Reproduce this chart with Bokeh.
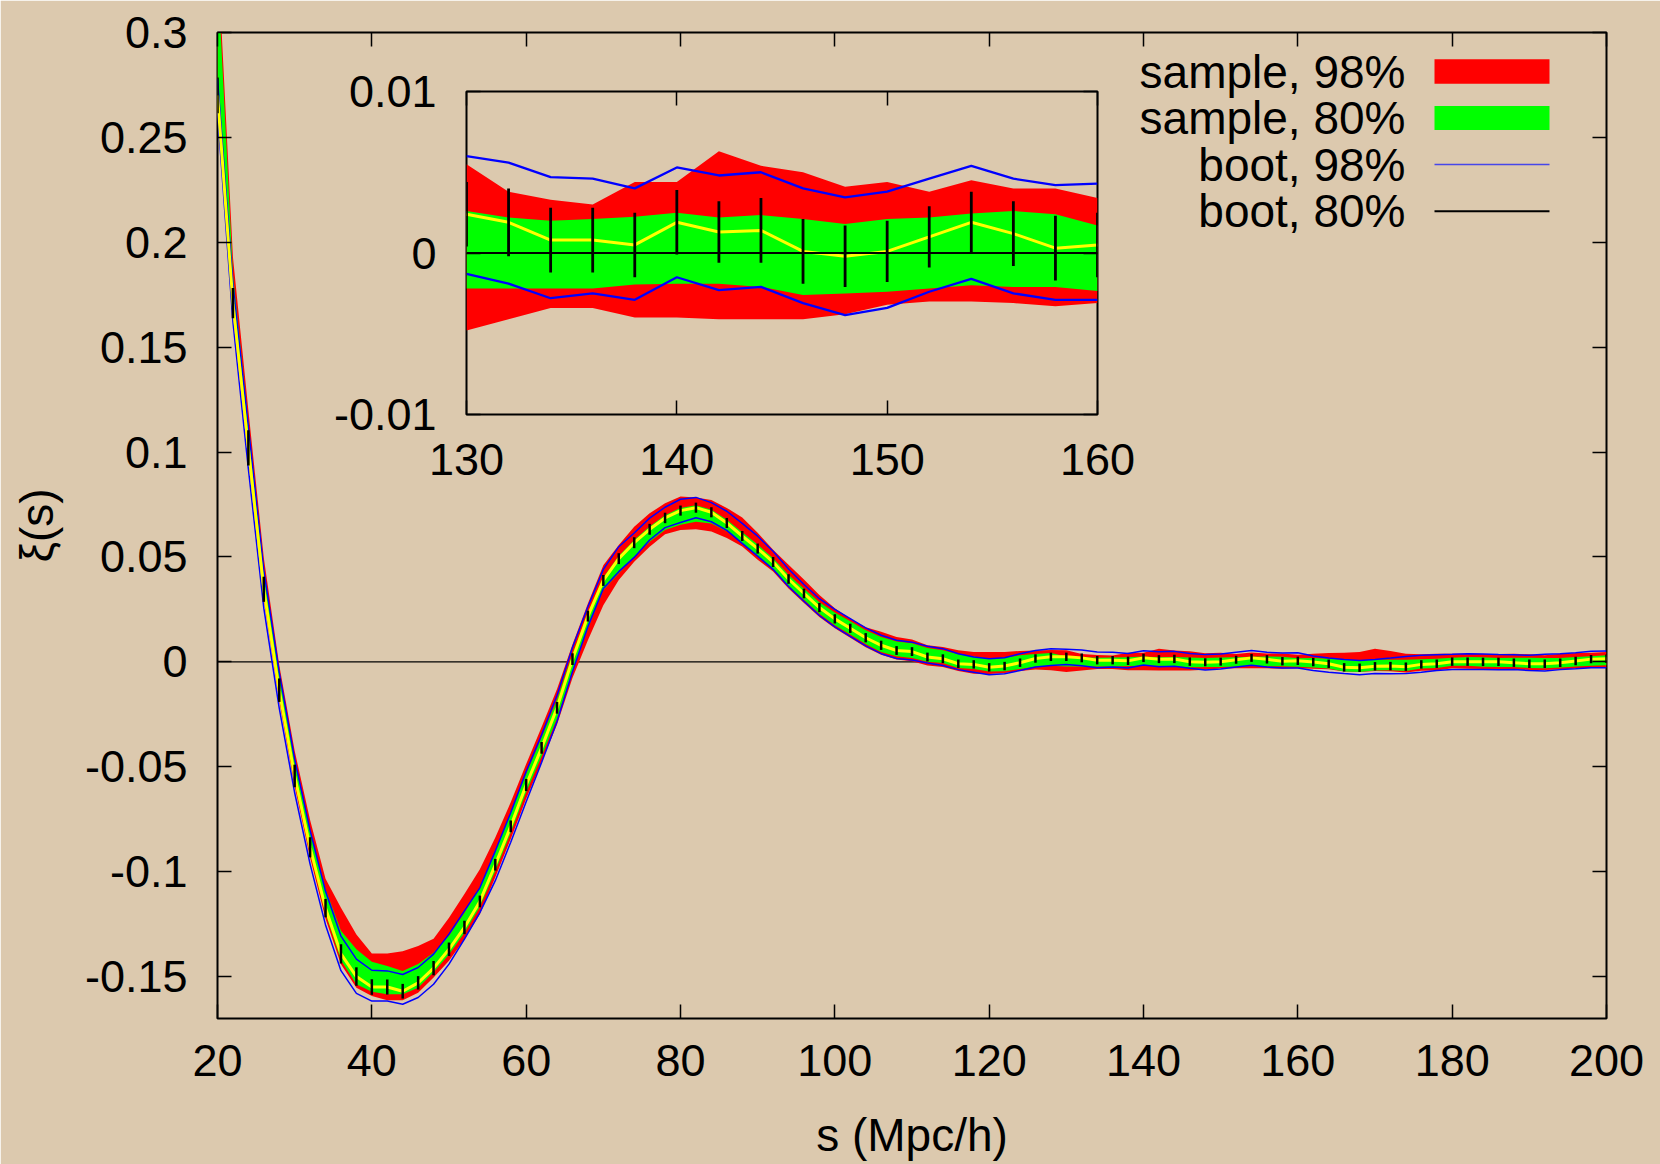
from bokeh.plotting import figure
from bokeh.models import LinearAxis, FixedTicker, Label, Span, BoxAnnotation
from bokeh.layouts import column
from bokeh.embed import file_html
from bokeh.resources import INLINE

# ---------------- data ----------------
s = list(range(20, 201, 2))

xi_mean = [
    0.270, 0.171, 0.102, 0.0346, -0.0135, -0.0544, -0.0884, -0.1174, -0.1392, -0.1500,
    -0.1550, -0.1550, -0.1570, -0.1530, -0.1460, -0.1370, -0.1266, -0.1142, -0.0967, -0.0784,
    -0.0587, -0.0410, -0.0219, 0.0013, 0.0218, 0.0388, 0.0492, 0.0568, 0.0632, 0.0686,
    0.0721, 0.0735, 0.0713, 0.0662, 0.0600, 0.0540, 0.0476, 0.0395, 0.0326, 0.0259,
    0.0205, 0.0160, 0.0115, 0.0079, 0.0054, 0.0049, 0.0023, 0.0015, -0.0009, -0.0012,
    -0.0026, -0.0020, -0.0004, 0.0016, 0.0024, 0.0024, 0.0019, 0.0008, 0.0008, 0.0005,
    0.0019, 0.0013, 0.0014, 0.0001, -0.0002, 0.0001, 0.0010, 0.0019, 0.0012, 0.0003,
    0.0005, -0.0001, -0.0009, -0.0026, -0.0028, -0.0021, -0.0020, -0.0023, -0.0012, -0.0009,
    0.0001, 0.0001, 0.0000, 0.0000, -0.0004, -0.0009, -0.0009, -0.0004, 0.0004, 0.0013,
    0.0015,
]

# deviations from the mean, in units of 1e-3
samp98_up = [
    70, 22, 18, 15, 12, 12, 13, 14, 22, 20,
    16, 16, 19, 17.5, 14, 15, 16, 15.4, 13, 11.5,
    10, 10, 9, 7, 6, 7.3, 6.5, 7.6, 7.6, 7,
    6.7, 4.9, 5.9, 7.2, 8.8, 7.5, 5.9, 6.8, 6.7, 6,
    5, 4.5, 5, 6.5, 6.5, 5.8, 5.6, 5.6, 6.4, 5.9,
    7.3, 6.7, 5.6, 3.8, 3.3, 3.1, 1.9, 2.5, 2.2, 3.9,
    2.5, 5.0, 4.0, 4.9, 4.3, 4.3, 2.8, 2.6, 2.8, 3.7,
    2.9, 4.0, 5.1, 7.0, 7.5, 8.4, 7.2, 6.2, 4.8, 4.8,
    3.8, 3.8, 3.8, 3.8, 4.3, 4.5, 4.0, 4.3, 3.8, 3.0,
    3.2,
]
samp98_dn = [
    8, 6, 6, 5, 5, 5, 5, 5, 5, 5.3,
    4.3, 6.3, 4.3, 4.7, 4.5, 5.5, 5.6, 6.1, 6, 6,
    6.6, 6.8, 8, 9, 11.5, 11.8, 10.2, 9.1, 8.3, 7.8,
    9.2, 10.3, 9.2, 7.2, 5, 5.3, 4.5, 4.5, 4.5, 4.5,
    4.5, 4.5, 4.5, 4.5, 4.3, 4.6, 4.0, 4.0, 3.5, 4.5,
    3.2, 3.3, 4.0, 5.2, 6.4, 7.2, 6.0, 4.2, 4.2, 4.5,
    5.9, 5.4, 5.5, 4.2, 3.6, 3.3, 4.0, 4.9, 4.3, 3.6,
    3.6, 3.2, 2.6, 2.0, 2.0, 2.2, 2.5, 2.8, 3.0, 3.2,
    3.2, 3.4, 3.4, 3.4, 3.2, 3.0, 3.0, 3.2, 3.6, 4.2,
    4.3,
]
samp80_up = [
    60, 14, 12, 10, 8, 7, 8, 9, 11, 13,
    12, 10, 9.7, 9, 7.4, 6.4, 7, 6.7, 6.7, 6.7,
    5.3, 5, 4, 2.5, 1.5, 1.4, 1.3, 1.3, 1.3, 1.3,
    1.3, 1.1, 1.2, 1.5, 1.8, 1.9, 1.8, 2.0, 2.2, 2.5,
    3.0, 3.3, 3.6, 4.0, 4.3, 4.0, 4.3, 4.0, 4.5, 3.8,
    4.1, 4.0, 3.5, 2.2, 1.8, 0.2, 0.3, 1.2, 1.3, 1.75,
    0.6, 0.9, 0.95, 2.0, 2.0, 2.0, 1.2, 0.55, 1.4, 2.1,
    1.2, 1.9, 2.4, 3.7, 3.5, 3.2, 3.0, 3.3, 2.4, 2.4,
    1.9, 2.2, 2.2, 1.9, 2.4, 2.9, 2.7, 2.2, 1.9, 1.4,
    1.6,
]
samp80_dn = [
    4, 3, 3, 3, 3, 2.5, 2.5, 2.5, 3, 3.7,
    2.2, 3.5, 1.5, 2.3, 2, 2.5, 2.5, 2.5, 3, 3,
    3.5, 4, 5, 5.5, 5.9, 4.6, 7, 6.7, 5.9, 5.7,
    6.8, 6.7, 5.3, 4.0, 3.5, 3.7, 3.3, 3.2, 3.0, 3.0,
    3.0, 3.0, 3.0, 3.2, 2.7, 3.0, 2.3, 2.1, 2.0, 2.2,
    2.0, 2.5, 3.0, 3.8, 4.3, 4.6, 4.1, 3.0, 3.0, 2.45,
    3.8, 3.2, 3.5, 2.7, 2.3, 2.5, 3.2, 3.9, 3.3, 2.4,
    2.85, 2.6, 2.3, 2.0, 2.0, 2.0, 2.0, 2.0, 2.0, 2.0,
    2.0, 2.0, 2.3, 2.4, 2.0, 2.0, 2.1, 2.3, 2.6, 3.2,
    3.1,
]
boot98_up = [
    8, 9, 10, 9, 8.5, 8, 8, 8, 8.5, 8.3,
    8.0, 7.7, 8.0, 7.3, 6.7, 7.2, 7.9, 6.5, 6.5, 6.5,
    6.4, 6.2, 6.0, 5.5, 4.5, 5.3, 5.7, 4.6, 5.3, 5.1,
    5.4, 4.9, 4.6, 5.6, 6.0, 5.9, 5.1, 4.8, 4.3, 4.2,
    4.5, 4.6, 4.7, 4.8, 4.9, 4.5, 5.1, 4.8, 4.8, 3.5,
    4.1, 4.0, 4.3, 3.8, 3.8, 3.6, 3.7, 3.9, 3.8, 3.5,
    3.4, 3.5, 3.6, 3.9, 3.65, 3.7, 3.6, 3.5, 3.4, 3.9,
    3.8, 2.9, 2.7, 3.7, 3.5, 3.2, 3.8, 4.9, 4.3, 4.3,
    3.5, 3.8, 3.8, 3.5, 3.8, 4.0, 4.5, 4.3, 4.0, 3.7,
    3.7,
]
boot98_dn = [
    8, 9, 10, 9, 8.5, 8, 8, 8, 8, 8,
    6.7, 6.7, 6.2, 7.0, 7.7, 7.1, 5.6, 5.3, 7.6, 7.6,
    8.0, 7.0, 6.5, 6.0, 5.0, 3.8, 6.2, 7.0, 5.1, 4.6,
    5.7, 4.8, 4.5, 3.5, 3.5, 3.6, 3.5, 3.6, 3.7, 3.8,
    3.8, 3.8, 3.9, 4.0, 3.8, 4.0, 2.8, 3.2, 2.8, 3.7,
    3.5, 3.7, 3.7, 4.1, 4.1, 3.7, 3.8, 3.6, 3.3, 3.4,
    3.4, 3.6, 3.5, 3.2, 3.65, 3.5, 3.4, 3.5, 3.7, 3.2,
    3.4, 4.0, 4.0, 3.0, 3.3, 3.5, 3.7, 3.3, 3.7, 3.2,
    3.8, 3.7, 3.7, 3.8, 3.3, 3.2, 3.5, 3.3, 3.7, 4.1,
    4.3,
]
boot80_err = [
    8.5, 7.2, 8.4, 6.0, 5.6, 5.4, 4.8, 4.4, 4.6, 4.4,
    3.7, 3.6, 3.5, 3.2, 3.4, 3.2, 3.2, 2.8, 2.8, 2.8,
    2.9, 2.8, 2.8, 2.8, 2.6, 2.6, 2.6, 2.6, 2.6, 2.5,
    2.4, 2.4, 2.4, 2.4, 2.4, 2.4, 2.4, 2.3, 2.3, 2.2,
    2.2, 2.2, 2.2, 2.2, 2.1, 2.1, 2.1, 2.1, 2.0, 2.0,
    2.0, 2.0, 2.0, 2.0, 2.0, 2.0, 2.1, 2.0, 2.0, 2.0,
    2.0, 1.9, 2.0, 2.0, 1.9, 1.9, 1.9, 1.9, 2.0, 2.0,
    2.0, 2.0, 2.0, 2.0, 2.0, 2.0, 2.0, 2.0, 2.0, 2.0,
    2.0, 2.0, 2.0, 2.0, 2.0, 2.0, 2.0, 2.0, 2.0, 2.0,
    2.0,
]

legend_labels = ["sample, 98%", "sample, 80%", "boot, 98%", "boot, 80%"]

x_ticks = [20, 40, 60, 80, 100, 120, 140, 160, 180, 200]
y_ticks = [-0.15, -0.1, -0.05, 0, 0.05, 0.1, 0.15, 0.2, 0.25, 0.3]
y_tick_labels = ["-0.15", "-0.1", "-0.05", "0", "0.05", "0.1", "0.15", "0.2", "0.25", "0.3"]
inset_x_ticks = [130, 140, 150, 160]
inset_y_ticks = [-0.01, 0, 0.01]
inset_y_tick_labels = ["-0.01", "0", "0.01"]

# ---------------- derived band edges ----------------
def shift(base, dev, sign):
    return [b + sign * d * 1e-3 for b, d in zip(base, dev)]

red_hi = shift(xi_mean, samp98_up, 1)
red_lo = shift(xi_mean, samp98_dn, -1)
grn_hi = shift(xi_mean, samp80_up, 1)
grn_lo = shift(xi_mean, samp80_dn, -1)
blu_hi = shift(xi_mean, boot98_up, 1)
blu_lo = shift(xi_mean, boot98_dn, -1)
bar_hi = shift(xi_mean, boot80_err, 1)
bar_lo = shift(xi_mean, boot80_err, -1)

BG = "#dcc9ae"
FONT = "Liberation Sans"
FS = "45px"
FS_LEG = "46px"

# ---------------- main figure ----------------
W, H = 1660, 1164
BL, BT = 217, 32
FW, FH = 1389, 986
BR, BB = W - BL - FW, H - BT - FH
X0, X1, Y0, Y1 = 20, 200, -0.17, 0.3

p = figure(width=W, height=H, x_range=(X0, X1), y_range=(Y0, Y1),
           output_backend="svg", toolbar_location=None,
           min_border_left=BL, min_border_right=BR, min_border_top=BT, min_border_bottom=BB,
           background_fill_color=BG, border_fill_color=BG)
p.outline_line_color = "black"
p.outline_line_width = 2
p.grid.visible = False

p.add_layout(Span(location=0, dimension="width", line_color="black", line_width=1.2, level="underlay"))

p.varea(x=s, y1=red_lo, y2=red_hi, fill_color="#ff0000")
p.varea(x=s, y1=grn_lo, y2=grn_hi, fill_color="#00ff00")
p.line(s, blu_hi, line_color="#0000ff", line_width=1.5)
p.line(s, blu_lo, line_color="#0000ff", line_width=1.5)
p.line(s, xi_mean, line_color="#ffff00", line_width=3)
p.segment(x0=s, y0=bar_lo, x1=s, y1=bar_hi, line_color="black", line_width=2.5)


def style_axis(ax, ticks, overrides=None, labels=True, standoff=28):
    ax.ticker = FixedTicker(ticks=ticks)
    ax.major_tick_in = 14
    ax.major_tick_out = 0
    ax.minor_tick_line_color = None
    ax.major_tick_line_color = "black"
    ax.major_tick_line_width = 1.5
    ax.axis_line_color = None
    if overrides:
        ax.major_label_overrides = overrides
    if labels:
        ax.major_label_text_font = FONT
        ax.major_label_text_font_size = FS
        ax.major_label_text_color = "black"
        ax.major_label_standoff = standoff
    else:
        ax.major_label_text_color = None
        ax.major_label_text_font_size = "1px"
        ax.major_label_standoff = 0


xa = p.xaxis[0]
ya = p.yaxis[0]
style_axis(xa, x_ticks, standoff=26)
style_axis(ya, y_ticks, dict(zip(y_ticks, y_tick_labels)), standoff=30)
xa.axis_label = "s (Mpc/h)"
ya.axis_label = "ξ(s)"
for ax, st in ((xa, 30), (ya, 19)):
    ax.axis_label_text_font = FONT
    ax.axis_label_text_font_size = FS_LEG
    ax.axis_label_text_font_style = "normal"
    ax.axis_label_text_color = "black"
    ax.axis_label_standoff = st

top_ax = LinearAxis()
right_ax = LinearAxis()
style_axis(top_ax, x_ticks, labels=False)
style_axis(right_ax, y_ticks, labels=False)
p.add_layout(top_ax, "above")
p.add_layout(right_ax, "right")


# legend (gnuplot style: right-aligned text, sample to the right)
def px_x(px):
    return X0 + (px - BL) / FW * (X1 - X0)


def px_y(py):
    return Y1 - (py - BT) / FH * (Y1 - Y0)


row_y = [71, 117.5, 164, 210.7]
text_right = 1405
sample_l, sample_r = 1434, 1549
for lab, ry in zip(legend_labels, row_y):
    p.add_layout(Label(x=px_x(text_right), y=px_y(ry), text=lab, text_align="right",
                       text_baseline="middle", text_font=FONT, text_font_size=FS_LEG,
                       text_color="black"))
sample_styles = [("#ff0000", 12.3), ("#00ff00", 12.0), ("#4646ea", 0.8), ("black", 1.0)]
for (col, half), ry in zip(sample_styles, row_y):
    p.add_layout(BoxAnnotation(left=px_x(sample_l), right=px_x(sample_r),
                               top=px_y(ry - half), bottom=px_y(ry + half),
                               fill_color=col, fill_alpha=1, line_alpha=0))

# ---------------- inset ----------------
i0, i1 = s.index(130), s.index(160) + 1
si = s[i0:i1]
IFL, IFT, IFW, IFH = 466, 91, 631, 323     # inset frame in page px
IBL, IBR, IBT, IBB = BL, BR, 40, 80
IW, IH = IBL + IFW + IBR, IBT + IFH + IBB
q = figure(width=IW, height=IH, x_range=(130, 160), y_range=(-0.01, 0.01),
           output_backend="svg", toolbar_location=None,
           min_border_left=IBL, min_border_right=IBR, min_border_top=IBT, min_border_bottom=IBB,
           background_fill_alpha=0, border_fill_alpha=0)
q.outline_line_color = "black"
q.outline_line_width = 2
q.grid.visible = False
q.varea(x=si, y1=red_lo[i0:i1], y2=red_hi[i0:i1], fill_color="#ff0000")
q.varea(x=si, y1=grn_lo[i0:i1], y2=grn_hi[i0:i1], fill_color="#00ff00")
q.line(si, blu_hi[i0:i1], line_color="#0000ff", line_width=2.3)
q.line(si, blu_lo[i0:i1], line_color="#0000ff", line_width=2.3)
q.line(si, xi_mean[i0:i1], line_color="#ffff00", line_width=3)
q.segment(x0=si, y0=bar_lo[i0:i1], x1=si, y1=bar_hi[i0:i1], line_color="black", line_width=2.8)
q.add_layout(Span(location=0, dimension="width", line_color="black", line_width=1.8))
style_axis(q.xaxis[0], inset_x_ticks, standoff=29)
style_axis(q.yaxis[0], inset_y_ticks, dict(zip(inset_y_ticks, inset_y_tick_labels)), standoff=30)
qt = LinearAxis()
qr = LinearAxis()
style_axis(qt, inset_x_ticks, labels=False)
style_axis(qr, inset_y_ticks, labels=False)
q.add_layout(qt, "above")
q.add_layout(qr, "right")

# place the inset over the main plot
inset_left = IFL - IBL
inset_top = IFT - IBT
q.margin = (inset_top - H, 0, H - inset_top - IH, inset_left)

layout = column(p, q)
open("out.html", "w").write(file_html(layout, INLINE))
